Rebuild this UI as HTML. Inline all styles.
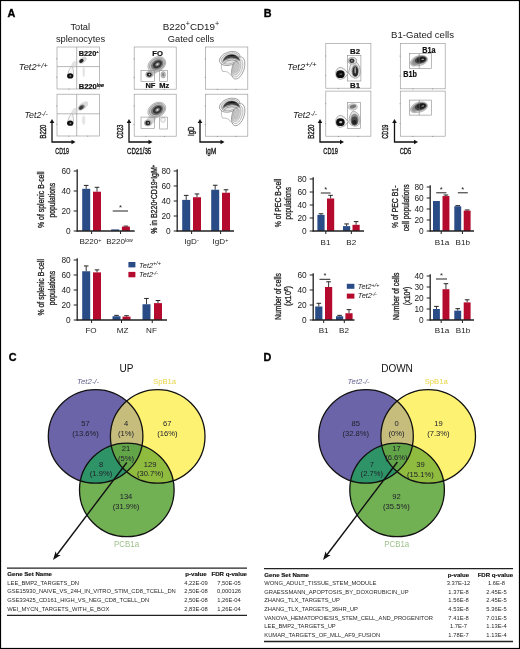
<!DOCTYPE html>
<html lang="en"><head><meta charset="utf-8"><title>Figure</title>
<style>html,body{margin:0;padding:0;background:#fff}svg{display:block}text{font-family:"Liberation Sans", sans-serif}</style></head><body>
<svg width="520" height="649" viewBox="0 0 520 649">
<defs><filter id="bl" x="-20%" y="-20%" width="140%" height="140%"><feGaussianBlur stdDeviation="0.5"/></filter><filter id="bl2" x="-20%" y="-20%" width="140%" height="140%"><feGaussianBlur stdDeviation="0.9"/></filter></defs>
<rect x="0" y="0" width="520" height="649" fill="#fff" />
<text x="7.4" y="17" font-size="10.8" font-weight="bold" fill="#000" stroke="#000" stroke-width="0.35">A</text>
<text x="80.3" y="29.5" font-size="9.3" text-anchor="middle" fill="#1a1a1a">Total</text>
<text x="80.5" y="41.5" font-size="9.3" text-anchor="middle" fill="#1a1a1a">splenocytes</text>
<text x="191" y="29.5" font-size="9.6" text-anchor="middle" fill="#1a1a1a" textLength="56.5" lengthAdjust="spacingAndGlyphs">B220<tspan font-size="7" dy="-3.2">+</tspan><tspan dy="3.2">CD19</tspan><tspan font-size="7" dy="-3.2">+</tspan></text>
<text x="191" y="41.5" font-size="9.3" text-anchor="middle" fill="#1a1a1a">Gated cells</text>
<text x="18.8" y="69.8" font-size="9.5" font-style="italic" fill="#1a1a1a" textLength="29.1" lengthAdjust="spacingAndGlyphs">Tet2<tspan font-size="8" dy="-2.2">+/+</tspan></text>
<text x="24.5" y="118" font-size="9" font-style="italic" fill="#1a1a1a" textLength="23.2" lengthAdjust="spacingAndGlyphs">Tet2<tspan font-size="6.8" dy="-2.4">-/-</tspan></text>
<rect x="57" y="47" width="42.599999999999994" height="42" fill="#fff" stroke="#999" stroke-width="0.65" />
<line x1="56.2" y1="58.760000000000005" x2="57.3" y2="58.760000000000005" stroke="#777" stroke-width="0.6" />
<line x1="68.928" y1="88.7" x2="68.928" y2="89.8" stroke="#777" stroke-width="0.6" />
<line x1="56.2" y1="77.24" x2="57.3" y2="77.24" stroke="#777" stroke-width="0.6" />
<line x1="87.672" y1="88.7" x2="87.672" y2="89.8" stroke="#777" stroke-width="0.6" />
<line x1="57" y1="66.6" x2="99.6" y2="66.6" stroke="#909090" stroke-width="0.65" />
<line x1="76.7" y1="47" x2="76.7" y2="89" stroke="#909090" stroke-width="0.65" />
<g filter="url(#bl)">
<path d="M67.2 75.95 Q68.5 68.95 72 65.75 Q74.3 70.95 73.4 75.95 Z" fill="#f6f6f6" stroke="#888" stroke-width="0.45"/>
<ellipse cx="70.2" cy="75.95" rx="3.1" ry="2.6" fill="#111" />
<ellipse cx="70.4" cy="75.95" rx="0.9" ry="0.6" fill="#aaa" />
<ellipse cx="74.6" cy="64.2" rx="2.6" ry="3.8" fill="#ccc" transform="rotate(38 74.6 64.2)" opacity="0.55" />
<ellipse cx="82.6" cy="60.2" rx="4.6" ry="2.8" fill="#bbb" transform="rotate(-38 82.6 60.2)" opacity="0.6" />
<ellipse cx="81.4" cy="60.9" rx="2.4" ry="1.8" fill="#222" transform="rotate(-35 81.4 60.9)" />
<ellipse cx="83.7" cy="72" rx="1.2" ry="5" fill="#ddd" opacity="0.8" />
</g>
<rect x="57" y="94.2" width="42.599999999999994" height="41.8" fill="#fff" stroke="#999" stroke-width="0.65" />
<line x1="56.2" y1="105.904" x2="57.3" y2="105.904" stroke="#777" stroke-width="0.6" />
<line x1="68.928" y1="135.7" x2="68.928" y2="136.8" stroke="#777" stroke-width="0.6" />
<line x1="56.2" y1="124.29599999999999" x2="57.3" y2="124.29599999999999" stroke="#777" stroke-width="0.6" />
<line x1="87.672" y1="135.7" x2="87.672" y2="136.8" stroke="#777" stroke-width="0.6" />
<line x1="57" y1="113.80000000000001" x2="99.6" y2="113.80000000000001" stroke="#909090" stroke-width="0.65" />
<line x1="76.7" y1="94.2" x2="76.7" y2="136" stroke="#909090" stroke-width="0.65" />
<g filter="url(#bl)">
<path d="M67.2 123.15 Q68.5 116.15 72 112.95 Q74.3 118.15 73.4 123.15 Z" fill="#f6f6f6" stroke="#888" stroke-width="0.45"/>
<ellipse cx="70.2" cy="123.15" rx="3.1" ry="2.6" fill="#111" />
<ellipse cx="70.4" cy="123.15" rx="0.9" ry="0.6" fill="#aaa" />
<ellipse cx="74.6" cy="111.4" rx="2.6" ry="3.8" fill="#ccc" transform="rotate(38 74.6 111.4)" opacity="0.55" />
<ellipse cx="83" cy="106.0" rx="6.2" ry="3.2" fill="#c4c4c4" transform="rotate(-40 83 106.0)" opacity="0.6" />
<ellipse cx="81.6" cy="107.3" rx="3.4" ry="2.2" fill="#777" transform="rotate(-38 81.6 107.3)" />
<ellipse cx="81.2" cy="107.60000000000001" rx="2.1" ry="1.4" fill="#3a3a3a" transform="rotate(-38 81.2 107.60000000000001)" />
<ellipse cx="83.7" cy="120.2" rx="1.6" ry="4.6" fill="#ddd" opacity="0.8" />
</g>
<text x="78.7" y="55.8" font-size="8.1" font-weight="bold" fill="#111" textLength="20" lengthAdjust="spacingAndGlyphs" stroke="#111" stroke-width="0.22">B220<tspan font-size="4.4" dy="-2.7">+</tspan></text>
<text x="78.7" y="88.8" font-size="8.1" font-weight="bold" fill="#111" textLength="25.2" lengthAdjust="spacingAndGlyphs" stroke="#111" stroke-width="0.22">B220<tspan font-size="4.6" dy="-1.6">low</tspan></text>
<path d="M52 122 V142 H72.5" fill="none" stroke="#111" stroke-width="1.3"/>
<path d="M49.7 123 L52 119 L54.3 123 Z" fill="#111"/>
<path d="M71.5 139.7 L75.5 142 L71.5 144.3 Z" fill="#111"/>
<text x="46.4" y="138.6" font-size="9.8" fill="#1a1a1a" textLength="14" lengthAdjust="spacingAndGlyphs" transform="rotate(-90 46.4 138.6)" stroke="#1a1a1a" stroke-width="0.4">B220</text>
<text x="55.3" y="154" font-size="9.8" fill="#1a1a1a" textLength="13.6" lengthAdjust="spacingAndGlyphs" stroke="#1a1a1a" stroke-width="0.4">CD19</text>
<rect x="134.2" y="47" width="42.0" height="42.2" fill="#fff" stroke="#999" stroke-width="0.65" />
<line x1="133.39999999999998" y1="58.816" x2="134.5" y2="58.816" stroke="#777" stroke-width="0.6" />
<line x1="145.95999999999998" y1="88.9" x2="145.95999999999998" y2="90.0" stroke="#777" stroke-width="0.6" />
<line x1="133.39999999999998" y1="77.384" x2="134.5" y2="77.384" stroke="#777" stroke-width="0.6" />
<line x1="164.44" y1="88.9" x2="164.44" y2="90.0" stroke="#777" stroke-width="0.6" />
<g filter="url(#bl)">
<path d="M147.2 72.6 Q150.2 67.6 152.2 67.5 L157.2 70.5 Q155.2 75.6 152.2 76.6 Z" fill="#c8c8c8" opacity="0.8"/>
<ellipse cx="156.79999999999998" cy="64.5" rx="9.6" ry="7.1" fill="#e6e6e6" stroke="#777" stroke-width="0.45" transform="rotate(-32 156.79999999999998 64.5)" />
<ellipse cx="157.0" cy="64.5" rx="8.2" ry="6" fill="#bdbdbd" stroke="#666" stroke-width="0.4" transform="rotate(-32 157.0 64.5)" />
<ellipse cx="157.2" cy="64.5" rx="6.6" ry="4.8" fill="#777" transform="rotate(-32 157.2 64.5)" />
<ellipse cx="157.39999999999998" cy="64.3" rx="4.8" ry="3.4" fill="#333" transform="rotate(-32 157.39999999999998 64.3)" />
<ellipse cx="157.5" cy="64.3" rx="2.6" ry="1.7" fill="#777" transform="rotate(-32 157.5 64.3)" />
<ellipse cx="157.5" cy="64.3" rx="1.1" ry="0.8" fill="#ddd" transform="rotate(-32 157.5 64.3)" />
<ellipse cx="149.2" cy="74.6" rx="3.5" ry="3" fill="#c4c4c4" stroke="#666" stroke-width="0.4" />
<ellipse cx="149.2" cy="74.6" rx="2.5" ry="2.2" fill="#1e1e1e" />
<ellipse cx="149.5" cy="74.6" rx="0.9" ry="0.8" fill="#ccc" />
<ellipse cx="163.2" cy="74.8" rx="2.3" ry="3.2" fill="#bbb" stroke="#888" stroke-width="0.4" />
<ellipse cx="163.2" cy="74.8" rx="1.1" ry="1.8" fill="#888" />
</g>
<rect x="141" y="70.6" width="13.6" height="10.9" fill="none" stroke="#8c8c8c" stroke-width="0.6" />
<rect x="159.7" y="70.6" width="7.8" height="10.9" fill="none" stroke="#8c8c8c" stroke-width="0.6" />
<rect x="134.2" y="94.2" width="42.0" height="41.999999999999986" fill="#fff" stroke="#999" stroke-width="0.65" />
<line x1="133.39999999999998" y1="105.96000000000001" x2="134.5" y2="105.96000000000001" stroke="#777" stroke-width="0.6" />
<line x1="145.95999999999998" y1="135.89999999999998" x2="145.95999999999998" y2="137.0" stroke="#777" stroke-width="0.6" />
<line x1="133.39999999999998" y1="124.44" x2="134.5" y2="124.44" stroke="#777" stroke-width="0.6" />
<line x1="164.44" y1="135.89999999999998" x2="164.44" y2="137.0" stroke="#777" stroke-width="0.6" />
<g filter="url(#bl)">
<path d="M145.8 121.0 Q148.8 116.0 152.2 113.0 L157.2 116.0 Q153.8 124.0 150.8 125.0 Z" fill="#c8c8c8" opacity="0.8"/>
<ellipse cx="156.79999999999998" cy="110.0" rx="9.6" ry="7.1" fill="#e6e6e6" stroke="#777" stroke-width="0.45" transform="rotate(-32 156.79999999999998 110.0)" />
<ellipse cx="157.0" cy="110.0" rx="8.2" ry="6" fill="#bdbdbd" stroke="#666" stroke-width="0.4" transform="rotate(-32 157.0 110.0)" />
<ellipse cx="157.2" cy="110.0" rx="6.6" ry="4.8" fill="#777" transform="rotate(-32 157.2 110.0)" />
<ellipse cx="157.39999999999998" cy="109.8" rx="4.8" ry="3.4" fill="#333" transform="rotate(-32 157.39999999999998 109.8)" />
<ellipse cx="157.5" cy="109.8" rx="2.6" ry="1.7" fill="#777" transform="rotate(-32 157.5 109.8)" />
<ellipse cx="157.5" cy="109.8" rx="1.1" ry="0.8" fill="#ddd" transform="rotate(-32 157.5 109.8)" />
<ellipse cx="147.8" cy="123.0" rx="3.5" ry="3" fill="#c4c4c4" stroke="#666" stroke-width="0.4" />
<ellipse cx="147.8" cy="123.0" rx="2.5" ry="2.2" fill="#1e1e1e" />
<ellipse cx="148.10000000000002" cy="123.0" rx="0.9" ry="0.8" fill="#ccc" />
<ellipse cx="163" cy="119.80000000000001" rx="2.3" ry="2.6" fill="#f4f4f4" stroke="#999" stroke-width="0.45" />
</g>
<rect x="141" y="117.1" width="13.6" height="11.4" fill="none" stroke="#8c8c8c" stroke-width="0.6" />
<rect x="159.7" y="117.1" width="7.8" height="11.9" fill="none" stroke="#8c8c8c" stroke-width="0.6" />
<text x="152.3" y="56.3" font-size="7.6" font-weight="bold" fill="#111" stroke="#111" stroke-width="0.22">FO</text>
<text x="145.4" y="88.1" font-size="7.5" font-weight="bold" fill="#111" stroke="#111" stroke-width="0.22">NF</text>
<text x="159.3" y="88.1" font-size="7.5" font-weight="bold" fill="#111" stroke="#111" stroke-width="0.22">Mz</text>
<path d="M129 122 V142 H149.5" fill="none" stroke="#111" stroke-width="1.3"/>
<path d="M126.7 123 L129 119 L131.3 123 Z" fill="#111"/>
<path d="M148.5 139.7 L152.5 142 L148.5 144.3 Z" fill="#111"/>
<text x="123.2" y="138.6" font-size="9.8" fill="#1a1a1a" textLength="14" lengthAdjust="spacingAndGlyphs" transform="rotate(-90 123.2 138.6)" stroke="#1a1a1a" stroke-width="0.4">CD23</text>
<text x="127" y="154" font-size="9.8" fill="#1a1a1a" textLength="24.2" lengthAdjust="spacingAndGlyphs" stroke="#1a1a1a" stroke-width="0.4">CD21/35</text>
<rect x="205.5" y="47" width="42.30000000000001" height="42.2" fill="#fff" stroke="#999" stroke-width="0.65" />
<line x1="204.7" y1="58.816" x2="205.8" y2="58.816" stroke="#777" stroke-width="0.6" />
<line x1="217.344" y1="88.9" x2="217.344" y2="90.0" stroke="#777" stroke-width="0.6" />
<line x1="204.7" y1="77.384" x2="205.8" y2="77.384" stroke="#777" stroke-width="0.6" />
<line x1="235.95600000000002" y1="88.9" x2="235.95600000000002" y2="90.0" stroke="#777" stroke-width="0.6" />
<g filter="url(#bl)">
<ellipse cx="229.7" cy="58.5" rx="10.6" ry="6.6" fill="#fff" stroke="#555" stroke-width="0.5" transform="rotate(-18 229.7 58.5)" />
<ellipse cx="238.2" cy="68" rx="6" ry="11.5" fill="#fff" stroke="#555" stroke-width="0.5" transform="rotate(18 238.2 68)" />
<ellipse cx="237.6" cy="68" rx="4.7" ry="9.4" fill="#f1f1f1" stroke="#777" stroke-width="0.4" transform="rotate(18 237.6 68)" />
<ellipse cx="237" cy="67.7" rx="3.4" ry="7.4" fill="#dcdcdc" stroke="#888" stroke-width="0.4" transform="rotate(18 237 67.7)" />
<ellipse cx="236.7" cy="67.7" rx="2" ry="5.2" fill="#c6c6c6" stroke="#999" stroke-width="0.3" transform="rotate(18 236.7 67.7)" />
<ellipse cx="229.9" cy="58.5" rx="9" ry="5.3" fill="#e2e2e2" stroke="#666" stroke-width="0.4" transform="rotate(-18 229.9 58.5)" />
<path d="M222 62.8 Q223.5 54.1 232 53.9 Q239 54.5 240.6 61.5 Q236 58.3 231 58.7 Q225.5 59.5 222 62.8 Z" fill="#8a8a8a"/>
<path d="M223.2 60.8 Q225 54.6 232 54.4 Q238 54.9 239.6 60.1 Q235.5 57.1 231 57.5 Q226 58.1 223.2 60.8 Z" fill="#3a3a3a"/>
<path d="M227 55.9 Q231 54.5 236.5 55.7 Q232 56.1 227 55.9 Z" fill="#0a0a0a"/>
<path d="M223.5 63.9 Q226 60.1 232 59.9 Q236.5 60.1 238.5 62.9" fill="none" stroke="#777" stroke-width="0.7"/>
<path d="M221.5 63.5 Q220.6 68.5 222.6 71.5 Q228 70.5 231.5 76.0" fill="none" stroke="#777" stroke-width="0.45"/>
</g>
<rect x="205.5" y="94.2" width="42.30000000000001" height="41.999999999999986" fill="#fff" stroke="#999" stroke-width="0.65" />
<line x1="204.7" y1="105.96000000000001" x2="205.8" y2="105.96000000000001" stroke="#777" stroke-width="0.6" />
<line x1="217.344" y1="135.89999999999998" x2="217.344" y2="137.0" stroke="#777" stroke-width="0.6" />
<line x1="204.7" y1="124.44" x2="205.8" y2="124.44" stroke="#777" stroke-width="0.6" />
<line x1="235.95600000000002" y1="135.89999999999998" x2="235.95600000000002" y2="137.0" stroke="#777" stroke-width="0.6" />
<g filter="url(#bl)">
<ellipse cx="229.7" cy="105.2" rx="10.6" ry="6.6" fill="#fff" stroke="#555" stroke-width="0.5" transform="rotate(-18 229.7 105.2)" />
<ellipse cx="238.2" cy="114.7" rx="6" ry="11.5" fill="#fff" stroke="#555" stroke-width="0.5" transform="rotate(18 238.2 114.7)" />
<ellipse cx="237.6" cy="114.7" rx="4.7" ry="9.4" fill="#f1f1f1" stroke="#777" stroke-width="0.4" transform="rotate(18 237.6 114.7)" />
<ellipse cx="237" cy="114.4" rx="3.4" ry="7.4" fill="#dcdcdc" stroke="#888" stroke-width="0.4" transform="rotate(18 237 114.4)" />
<ellipse cx="236.7" cy="114.4" rx="2" ry="5.2" fill="#c6c6c6" stroke="#999" stroke-width="0.3" transform="rotate(18 236.7 114.4)" />
<ellipse cx="229.9" cy="105.2" rx="9" ry="5.3" fill="#e2e2e2" stroke="#666" stroke-width="0.4" transform="rotate(-18 229.9 105.2)" />
<path d="M222 109.5 Q223.5 100.8 232 100.60000000000001 Q239 101.2 240.6 108.2 Q236 105.0 231 105.4 Q225.5 106.2 222 109.5 Z" fill="#8a8a8a"/>
<path d="M223.2 107.5 Q225 101.3 232 101.10000000000001 Q238 101.60000000000001 239.6 106.8 Q235.5 103.8 231 104.2 Q226 104.8 223.2 107.5 Z" fill="#3a3a3a"/>
<path d="M227 102.60000000000001 Q231 101.2 236.5 102.4 Q232 102.8 227 102.60000000000001 Z" fill="#0a0a0a"/>
<path d="M223.5 110.60000000000001 Q226 106.8 232 106.60000000000001 Q236.5 106.8 238.5 109.60000000000001" fill="none" stroke="#777" stroke-width="0.7"/>
<path d="M221.5 110.2 Q220.6 115.2 222.6 118.2 Q228 117.2 231.5 122.7" fill="none" stroke="#777" stroke-width="0.45"/>
</g>
<path d="M200 122 V142 H221.5" fill="none" stroke="#111" stroke-width="1.3"/>
<path d="M197.7 123 L200 119 L202.3 123 Z" fill="#111"/>
<path d="M220.5 139.7 L224.5 142 L220.5 144.3 Z" fill="#111"/>
<text x="194" y="136" font-size="9.8" fill="#1a1a1a" textLength="9.5" lengthAdjust="spacingAndGlyphs" transform="rotate(-90 194 136)" stroke="#1a1a1a" stroke-width="0.4">IgD</text>
<text x="205.6" y="154" font-size="9.8" fill="#1a1a1a" textLength="10.6" lengthAdjust="spacingAndGlyphs" stroke="#1a1a1a" stroke-width="0.4">IgM</text>
<text x="263.8" y="17" font-size="10.8" font-weight="bold" fill="#000" stroke="#000" stroke-width="0.35">B</text>
<text x="287.3" y="69.5" font-size="9.5" font-style="italic" fill="#1a1a1a" textLength="29.3" lengthAdjust="spacingAndGlyphs">Tet2<tspan font-size="8" dy="-2.2">+/+</tspan></text>
<text x="293.1" y="118" font-size="9" font-style="italic" fill="#1a1a1a" textLength="23.8" lengthAdjust="spacingAndGlyphs">Tet2<tspan font-size="6.8" dy="-2.4">-/-</tspan></text>
<text x="391" y="38.2" font-size="9.3" fill="#1a1a1a" textLength="63" lengthAdjust="spacingAndGlyphs">B1-Gated cells</text>
<rect x="325.8" y="43.4" width="45.099999999999966" height="44.800000000000004" fill="#fff" stroke="#999" stroke-width="0.65" />
<line x1="325.0" y1="55.944" x2="326.1" y2="55.944" stroke="#777" stroke-width="0.6" />
<line x1="338.428" y1="87.9" x2="338.428" y2="89.0" stroke="#777" stroke-width="0.6" />
<line x1="325.0" y1="75.656" x2="326.1" y2="75.656" stroke="#777" stroke-width="0.6" />
<line x1="358.272" y1="87.9" x2="358.272" y2="89.0" stroke="#777" stroke-width="0.6" />
<rect x="347.5" y="55.4" width="13.4" height="25.6" fill="none" stroke="#888" stroke-width="0.6" />
<g filter="url(#bl)">
<path d="M335.7 73.2 Q336.2 67.4 341.0 67.4 Q345.0 68.4 348.2 73.7 Q345.0 79.2 340.5 79.4 Q335.7 78.9 335.7 73.2 Z" fill="#f2f2f2" stroke="#666" stroke-width="0.5"/>
<ellipse cx="340.4" cy="74.2" rx="4.3" ry="3.9" fill="#111" />
<ellipse cx="340.9" cy="74.2" rx="1.5" ry="0.8" fill="#666" />
<path d="M348.5 72.8 Q350 63.8 353 60.3 Q360.3 62.8 360.3 71.8 Q360 78.3 355 78.3 Q351 77.8 348.5 72.8 Z" fill="#e8e8e8" stroke="#666" stroke-width="0.5"/>
<ellipse cx="355.2" cy="70.8" rx="3.7" ry="6.2" fill="#9a9a9a" />
<ellipse cx="355.3" cy="71.39999999999999" rx="2.8" ry="5" fill="#2c2c2c" />
<ellipse cx="355.2" cy="70.2" rx="0.8" ry="3.2" fill="#aaa" />
<ellipse cx="352.4" cy="60.7" rx="4.3" ry="3.3" fill="#ddd" stroke="#666" stroke-width="0.5" />
<ellipse cx="351.9" cy="60.7" rx="2.6" ry="2.2" fill="#333" />
<ellipse cx="351.9" cy="60.7" rx="0.8" ry="0.8" fill="#bbb" />
</g>
<rect x="325.8" y="91.1" width="45.099999999999966" height="45.099999999999994" fill="#fff" stroke="#999" stroke-width="0.65" />
<line x1="325.0" y1="103.728" x2="326.1" y2="103.728" stroke="#777" stroke-width="0.6" />
<line x1="338.428" y1="135.89999999999998" x2="338.428" y2="137.0" stroke="#777" stroke-width="0.6" />
<line x1="325.0" y1="123.57199999999999" x2="326.1" y2="123.57199999999999" stroke="#777" stroke-width="0.6" />
<line x1="358.272" y1="135.89999999999998" x2="358.272" y2="137.0" stroke="#777" stroke-width="0.6" />
<rect x="347.5" y="102.3" width="13" height="26.1" fill="none" stroke="#888" stroke-width="0.6" />
<g filter="url(#bl)">
<path d="M335.7 121.19999999999999 Q336.2 115.39999999999999 341.0 115.39999999999999 Q345.0 116.39999999999999 348.2 121.69999999999999 Q345.0 127.19999999999999 340.5 127.39999999999999 Q335.7 126.89999999999999 335.7 121.19999999999999 Z" fill="#f2f2f2" stroke="#666" stroke-width="0.5"/>
<ellipse cx="340.4" cy="122.19999999999999" rx="4.3" ry="3.9" fill="#111" />
<ellipse cx="340.7" cy="122.19999999999999" rx="1.6" ry="1.1" fill="#bbb" />
<path d="M348.8 122.3 Q349.5 113.3 353 110.8 Q360 112.3 360 121.3 Q359.6 126.3 354.6 126.3 Q350.6 125.89999999999999 348.8 122.3 Z" fill="#dedede" stroke="#777" stroke-width="0.5"/>
<ellipse cx="354.6" cy="119.7" rx="4.1" ry="6" fill="#8c8c8c" />
<ellipse cx="354.5" cy="120.89999999999999" rx="3.2" ry="4.4" fill="#474747" />
<ellipse cx="354.4" cy="122.1" rx="2.2" ry="2.2" fill="#222" />
<ellipse cx="352.8" cy="106.8" rx="4.6" ry="3.1" fill="#d4d4d4" stroke="#888" stroke-width="0.4" />
<ellipse cx="353" cy="106.6" rx="3.2" ry="1.8" fill="#777" transform="rotate(-15 353 106.6)" />
</g>
<text x="350" y="54" font-size="7.8" font-weight="bold" fill="#111" stroke="#111" stroke-width="0.22">B2</text>
<text x="350" y="88.2" font-size="7.8" font-weight="bold" fill="#111" stroke="#111" stroke-width="0.22">B1</text>
<path d="M320 122 V142 H341" fill="none" stroke="#111" stroke-width="1.3"/>
<path d="M317.7 123 L320 119 L322.3 123 Z" fill="#111"/>
<path d="M340 139.7 L344 142 L340 144.3 Z" fill="#111"/>
<text x="314.3" y="138.8" font-size="9.8" fill="#1a1a1a" textLength="14.2" lengthAdjust="spacingAndGlyphs" transform="rotate(-90 314.3 138.8)" stroke="#1a1a1a" stroke-width="0.4">B220</text>
<text x="323.3" y="154" font-size="9.8" fill="#1a1a1a" textLength="14.5" lengthAdjust="spacingAndGlyphs" stroke="#1a1a1a" stroke-width="0.4">CD19</text>
<rect x="400.3" y="43.4" width="44.89999999999998" height="45.4" fill="#fff" stroke="#999" stroke-width="0.65" />
<line x1="399.5" y1="56.112" x2="400.6" y2="56.112" stroke="#777" stroke-width="0.6" />
<line x1="412.872" y1="88.5" x2="412.872" y2="89.6" stroke="#777" stroke-width="0.6" />
<line x1="399.5" y1="76.088" x2="400.6" y2="76.088" stroke="#777" stroke-width="0.6" />
<line x1="432.628" y1="88.5" x2="432.628" y2="89.6" stroke="#777" stroke-width="0.6" />
<g filter="url(#bl)">
<ellipse cx="415.2" cy="62.300000000000004" rx="5.2" ry="3.6" fill="#c9c9c9" stroke="#999" stroke-width="0.3" transform="rotate(-25 415.2 62.300000000000004)" />
<ellipse cx="419.3" cy="60.6" rx="8.6" ry="5" fill="#cfcfcf" stroke="#888" stroke-width="0.4" transform="rotate(-14 419.3 60.6)" />
<ellipse cx="416" cy="61.7" rx="4.6" ry="3" fill="#9a9a9a" transform="rotate(-25 416 61.7)" />
<ellipse cx="420" cy="60.1" rx="7.3" ry="4.1" fill="#8a8a8a" transform="rotate(-14 420 60.1)" />
<ellipse cx="420.6" cy="59.9" rx="6" ry="3.3" fill="#444" transform="rotate(-14 420.6 59.9)" />
<ellipse cx="421.3" cy="59.6" rx="4.4" ry="2.4" fill="#1c1c1c" transform="rotate(-14 421.3 59.6)" />
<ellipse cx="422.8" cy="59.4" rx="1.4" ry="0.6" fill="#aaa" transform="rotate(-14 422.8 59.4)" />
</g>
<rect x="409.3" y="53.5" width="22.3" height="15" fill="none" stroke="#8a8a8a" stroke-width="0.6" />
<line x1="419.2" y1="53.5" x2="419.2" y2="68.5" stroke="#777" stroke-width="0.6" />
<rect x="400.3" y="91.1" width="44.89999999999998" height="45.099999999999994" fill="#fff" stroke="#999" stroke-width="0.65" />
<line x1="399.5" y1="103.728" x2="400.6" y2="103.728" stroke="#777" stroke-width="0.6" />
<line x1="412.872" y1="135.89999999999998" x2="412.872" y2="137.0" stroke="#777" stroke-width="0.6" />
<line x1="399.5" y1="123.57199999999999" x2="400.6" y2="123.57199999999999" stroke="#777" stroke-width="0.6" />
<line x1="432.628" y1="135.89999999999998" x2="432.628" y2="137.0" stroke="#777" stroke-width="0.6" />
<g filter="url(#bl)">
<ellipse cx="415.2" cy="108.89999999999999" rx="5.2" ry="3.6" fill="#c9c9c9" stroke="#999" stroke-width="0.3" transform="rotate(-25 415.2 108.89999999999999)" />
<ellipse cx="419.3" cy="107.19999999999999" rx="8.6" ry="5" fill="#cfcfcf" stroke="#888" stroke-width="0.4" transform="rotate(-14 419.3 107.19999999999999)" />
<ellipse cx="416" cy="108.29999999999998" rx="4.6" ry="3" fill="#9a9a9a" transform="rotate(-25 416 108.29999999999998)" />
<ellipse cx="420" cy="106.69999999999999" rx="7.3" ry="4.1" fill="#8a8a8a" transform="rotate(-14 420 106.69999999999999)" />
<ellipse cx="420.6" cy="106.49999999999999" rx="6" ry="3.3" fill="#444" transform="rotate(-14 420.6 106.49999999999999)" />
<ellipse cx="421.3" cy="106.19999999999999" rx="4.4" ry="2.4" fill="#1c1c1c" transform="rotate(-14 421.3 106.19999999999999)" />
<ellipse cx="422.8" cy="105.99999999999999" rx="1.4" ry="0.6" fill="#aaa" transform="rotate(-14 422.8 105.99999999999999)" />
</g>
<rect x="409.3" y="100.1" width="22.3" height="15" fill="none" stroke="#8a8a8a" stroke-width="0.6" />
<line x1="419.2" y1="100.1" x2="419.2" y2="115.1" stroke="#777" stroke-width="0.6" />
<text x="422.3" y="52.5" font-size="8.2" font-weight="bold" fill="#111" textLength="13.3" lengthAdjust="spacingAndGlyphs" stroke="#111" stroke-width="0.22">B1a</text>
<text x="403.2" y="76.8" font-size="8.2" font-weight="bold" fill="#111" textLength="13.6" lengthAdjust="spacingAndGlyphs" stroke="#111" stroke-width="0.22">B1b</text>
<path d="M394.5 122 V142 H415" fill="none" stroke="#111" stroke-width="1.3"/>
<path d="M392.2 123 L394.5 119 L396.8 123 Z" fill="#111"/>
<path d="M414 139.7 L418 142 L414 144.3 Z" fill="#111"/>
<text x="387.6" y="138.8" font-size="9.8" fill="#1a1a1a" textLength="14.2" lengthAdjust="spacingAndGlyphs" transform="rotate(-90 387.6 138.8)" stroke="#1a1a1a" stroke-width="0.4">CD19</text>
<text x="399.7" y="154" font-size="9.8" fill="#1a1a1a" textLength="11.5" lengthAdjust="spacingAndGlyphs" stroke="#1a1a1a" stroke-width="0.4">CD5</text>
<line x1="73.7" y1="231.0" x2="77.2" y2="231.0" stroke="#222" stroke-width="1" />
<text x="70.7" y="233.9" font-size="8.3" text-anchor="end" fill="#222">0</text>
<line x1="73.7" y1="211.0" x2="77.2" y2="211.0" stroke="#222" stroke-width="1" />
<text x="70.7" y="213.9" font-size="8.3" text-anchor="end" fill="#222">20</text>
<line x1="73.7" y1="191.0" x2="77.2" y2="191.0" stroke="#222" stroke-width="1" />
<text x="70.7" y="193.9" font-size="8.3" text-anchor="end" fill="#222">40</text>
<line x1="73.7" y1="171.0" x2="77.2" y2="171.0" stroke="#222" stroke-width="1" />
<text x="70.7" y="173.9" font-size="8.3" text-anchor="end" fill="#222">60</text>
<line x1="86.2" y1="188.8" x2="86.2" y2="185.4" stroke="#222" stroke-width="0.9" />
<line x1="83.9" y1="185.4" x2="88.5" y2="185.4" stroke="#222" stroke-width="1" />
<rect x="82.2" y="188.8" width="8" height="42.2" fill="#2a4c86" />
<line x1="97.0" y1="191.7" x2="97.0" y2="187.29999999999998" stroke="#222" stroke-width="0.9" />
<line x1="94.7" y1="187.29999999999998" x2="99.3" y2="187.29999999999998" stroke="#222" stroke-width="1" />
<rect x="93" y="191.7" width="8" height="39.3" fill="#b30a2e" />
<rect x="111.2" y="229.4" width="8" height="1.6" fill="#2a4c86" />
<line x1="125.9" y1="226.6" x2="125.9" y2="226.1" stroke="#222" stroke-width="0.9" />
<line x1="123.60000000000001" y1="226.1" x2="128.20000000000002" y2="226.1" stroke="#222" stroke-width="1" />
<rect x="121.9" y="226.6" width="8" height="4.4" fill="#b30a2e" />
<line x1="77.2" y1="169.2" x2="77.2" y2="231.6" stroke="#222" stroke-width="1.3" />
<line x1="76.60000000000001" y1="231" x2="134.7" y2="231" stroke="#222" stroke-width="1.3" />
<line x1="91.6" y1="231" x2="91.6" y2="234" stroke="#222" stroke-width="1" />
<line x1="120.55000000000001" y1="231" x2="120.55000000000001" y2="234" stroke="#222" stroke-width="1" />
<text x="90.5" y="244.3" font-size="8.1" text-anchor="middle" fill="#222">B220<tspan font-size="5.5" dy="-2.8">+</tspan></text>
<text x="119.5" y="244.3" font-size="8.1" text-anchor="middle" fill="#222">B220<tspan font-size="5.2" dy="-2.8">low</tspan></text>
<line x1="112.7" y1="211" x2="128" y2="211" stroke="#222" stroke-width="1" />
<text x="120.35" y="210.1" font-size="7.5" text-anchor="middle" fill="#222">*</text>
<text x="44" y="199.7" font-size="8.4" text-anchor="middle" fill="#222" textLength="56.5" lengthAdjust="spacingAndGlyphs" transform="rotate(-90 44 199.7)" stroke="#222" stroke-width="0.3">% of splenic B-cell</text>
<text x="55.3" y="200.2" font-size="8.4" text-anchor="middle" fill="#222" textLength="34.5" lengthAdjust="spacingAndGlyphs" transform="rotate(-90 55.3 200.2)" stroke="#222" stroke-width="0.3">populations</text>
<line x1="173.7" y1="231.0" x2="177.2" y2="231.0" stroke="#222" stroke-width="1" />
<text x="170.7" y="233.9" font-size="8.3" text-anchor="end" fill="#222">0</text>
<line x1="173.7" y1="216.0" x2="177.2" y2="216.0" stroke="#222" stroke-width="1" />
<text x="170.7" y="218.9" font-size="8.3" text-anchor="end" fill="#222">20</text>
<line x1="173.7" y1="201.0" x2="177.2" y2="201.0" stroke="#222" stroke-width="1" />
<text x="170.7" y="203.9" font-size="8.3" text-anchor="end" fill="#222">40</text>
<line x1="173.7" y1="186.0" x2="177.2" y2="186.0" stroke="#222" stroke-width="1" />
<text x="170.7" y="188.9" font-size="8.3" text-anchor="end" fill="#222">60</text>
<line x1="173.7" y1="171.0" x2="177.2" y2="171.0" stroke="#222" stroke-width="1" />
<text x="170.7" y="173.9" font-size="8.3" text-anchor="end" fill="#222">80</text>
<line x1="186.2" y1="199.875" x2="186.2" y2="195.375" stroke="#222" stroke-width="0.9" />
<line x1="183.89999999999998" y1="195.375" x2="188.5" y2="195.375" stroke="#222" stroke-width="1" />
<rect x="182.2" y="199.88" width="8" height="31.12" fill="#2a4c86" />
<line x1="197.0" y1="197.25" x2="197.0" y2="193.95" stroke="#222" stroke-width="0.9" />
<line x1="194.7" y1="193.95" x2="199.3" y2="193.95" stroke="#222" stroke-width="1" />
<rect x="193" y="197.25" width="8" height="33.75" fill="#b30a2e" />
<line x1="215.2" y1="189.75" x2="215.2" y2="185.25" stroke="#222" stroke-width="0.9" />
<line x1="212.89999999999998" y1="185.25" x2="217.5" y2="185.25" stroke="#222" stroke-width="1" />
<rect x="211.2" y="189.75" width="8" height="41.25" fill="#2a4c86" />
<line x1="226.0" y1="192.75" x2="226.0" y2="189.75" stroke="#222" stroke-width="0.9" />
<line x1="223.7" y1="189.75" x2="228.3" y2="189.75" stroke="#222" stroke-width="1" />
<rect x="222" y="192.75" width="8" height="38.25" fill="#b30a2e" />
<line x1="177.2" y1="169.2" x2="177.2" y2="231.6" stroke="#222" stroke-width="1.3" />
<line x1="176.6" y1="231" x2="234" y2="231" stroke="#222" stroke-width="1.3" />
<line x1="191.6" y1="231" x2="191.6" y2="234" stroke="#222" stroke-width="1" />
<line x1="220.6" y1="231" x2="220.6" y2="234" stroke="#222" stroke-width="1" />
<text x="191.5" y="244.3" font-size="8.1" text-anchor="middle" fill="#222">IgD<tspan font-size="5.5" dy="-2.8">-</tspan></text>
<text x="220.5" y="244.3" font-size="8.1" text-anchor="middle" fill="#222">IgD<tspan font-size="5.5" dy="-2.8">+</tspan></text>
<text x="157.2" y="199.2" font-size="8.4" text-anchor="middle" fill="#222" textLength="69" lengthAdjust="spacingAndGlyphs" transform="rotate(-90 157.2 199.2)" stroke="#222" stroke-width="0.3">% in B220<tspan font-size="5" dy="-2.5">+</tspan><tspan dy="2.5">CD19</tspan><tspan font-size="5" dy="-2.5">+</tspan><tspan dy="2.5">IgM</tspan><tspan font-size="5" dy="-2.5">+</tspan></text>
<line x1="73.7" y1="320.0" x2="77.2" y2="320.0" stroke="#222" stroke-width="1" />
<text x="70.7" y="322.9" font-size="8.3" text-anchor="end" fill="#222">0</text>
<line x1="73.7" y1="305.0" x2="77.2" y2="305.0" stroke="#222" stroke-width="1" />
<text x="70.7" y="307.9" font-size="8.3" text-anchor="end" fill="#222">20</text>
<line x1="73.7" y1="290.0" x2="77.2" y2="290.0" stroke="#222" stroke-width="1" />
<text x="70.7" y="292.9" font-size="8.3" text-anchor="end" fill="#222">40</text>
<line x1="73.7" y1="275.0" x2="77.2" y2="275.0" stroke="#222" stroke-width="1" />
<text x="70.7" y="277.9" font-size="8.3" text-anchor="end" fill="#222">60</text>
<line x1="73.7" y1="260.0" x2="77.2" y2="260.0" stroke="#222" stroke-width="1" />
<text x="70.7" y="262.9" font-size="8.3" text-anchor="end" fill="#222">80</text>
<line x1="86.2" y1="271.25" x2="86.2" y2="265.95" stroke="#222" stroke-width="0.9" />
<line x1="83.9" y1="265.95" x2="88.5" y2="265.95" stroke="#222" stroke-width="1" />
<rect x="82.2" y="271.25" width="8" height="48.75" fill="#2a4c86" />
<line x1="97.0" y1="272.375" x2="97.0" y2="269.875" stroke="#222" stroke-width="0.9" />
<line x1="94.7" y1="269.875" x2="99.3" y2="269.875" stroke="#222" stroke-width="1" />
<rect x="93" y="272.38" width="8" height="47.62" fill="#b30a2e" />
<line x1="116.5" y1="316.25" x2="116.5" y2="315.35" stroke="#222" stroke-width="0.9" />
<line x1="114.2" y1="315.35" x2="118.8" y2="315.35" stroke="#222" stroke-width="1" />
<rect x="112.5" y="316.25" width="8" height="3.75" fill="#2a4c86" />
<line x1="126.5" y1="316.625" x2="126.5" y2="315.725" stroke="#222" stroke-width="0.9" />
<line x1="124.2" y1="315.725" x2="128.8" y2="315.725" stroke="#222" stroke-width="1" />
<rect x="122.5" y="316.62" width="8" height="3.38" fill="#b30a2e" />
<line x1="146.5" y1="304.25" x2="146.5" y2="298.45" stroke="#222" stroke-width="0.9" />
<line x1="144.2" y1="298.45" x2="148.8" y2="298.45" stroke="#222" stroke-width="1" />
<rect x="142.5" y="304.25" width="8" height="15.75" fill="#2a4c86" />
<line x1="158.0" y1="303.125" x2="158.0" y2="300.525" stroke="#222" stroke-width="0.9" />
<line x1="155.7" y1="300.525" x2="160.3" y2="300.525" stroke="#222" stroke-width="1" />
<rect x="154" y="303.12" width="8" height="16.88" fill="#b30a2e" />
<line x1="77.2" y1="258.2" x2="77.2" y2="320.6" stroke="#222" stroke-width="1.3" />
<line x1="76.60000000000001" y1="320" x2="167" y2="320" stroke="#222" stroke-width="1.3" />
<line x1="91.6" y1="320" x2="91.6" y2="323" stroke="#222" stroke-width="1" />
<line x1="121.5" y1="320" x2="121.5" y2="323" stroke="#222" stroke-width="1" />
<line x1="152.25" y1="320" x2="152.25" y2="323" stroke="#222" stroke-width="1" />
<text x="91" y="332.6" font-size="8.1" text-anchor="middle" fill="#222">FO</text>
<text x="122.5" y="332.6" font-size="8.1" text-anchor="middle" fill="#222">MZ</text>
<text x="151.5" y="332.6" font-size="8.1" text-anchor="middle" fill="#222">NF</text>
<text x="44" y="287.3" font-size="8.4" text-anchor="middle" fill="#222" textLength="56.5" lengthAdjust="spacingAndGlyphs" transform="rotate(-90 44 287.3)" stroke="#222" stroke-width="0.3">% of splenic B-cell</text>
<text x="55.3" y="288" font-size="8.4" text-anchor="middle" fill="#222" textLength="34.5" lengthAdjust="spacingAndGlyphs" transform="rotate(-90 55.3 288)" stroke="#222" stroke-width="0.3">populations</text>
<rect x="128.4" y="262" width="7" height="5.4" fill="#2a4c86" />
<rect x="128.4" y="271.9" width="7" height="5.4" fill="#b30a2e" />
<text x="139" y="267.5" font-size="7.2" font-style="italic" fill="#1a1a1a" textLength="22" lengthAdjust="spacingAndGlyphs">Tet2<tspan font-size="5.4" dy="-2.2">+/+</tspan></text>
<text x="139" y="277.3" font-size="7.2" font-style="italic" fill="#1a1a1a" textLength="19" lengthAdjust="spacingAndGlyphs">Tet2<tspan font-size="5" dy="-2.2">-/-</tspan></text>
<line x1="309.7" y1="231.0" x2="313.2" y2="231.0" stroke="#222" stroke-width="1" />
<text x="306.7" y="233.9" font-size="8.3" text-anchor="end" fill="#222">0</text>
<line x1="309.7" y1="218.0" x2="313.2" y2="218.0" stroke="#222" stroke-width="1" />
<text x="306.7" y="220.9" font-size="8.3" text-anchor="end" fill="#222">20</text>
<line x1="309.7" y1="205.0" x2="313.2" y2="205.0" stroke="#222" stroke-width="1" />
<text x="306.7" y="207.9" font-size="8.3" text-anchor="end" fill="#222">40</text>
<line x1="309.7" y1="192.0" x2="313.2" y2="192.0" stroke="#222" stroke-width="1" />
<text x="306.7" y="194.9" font-size="8.3" text-anchor="end" fill="#222">60</text>
<line x1="309.7" y1="179.0" x2="313.2" y2="179.0" stroke="#222" stroke-width="1" />
<text x="306.7" y="181.9" font-size="8.3" text-anchor="end" fill="#222">80</text>
<line x1="321.0" y1="214.88" x2="321.0" y2="213.78" stroke="#222" stroke-width="0.9" />
<line x1="318.7" y1="213.78" x2="323.3" y2="213.78" stroke="#222" stroke-width="1" />
<rect x="317.4" y="214.88" width="7.2" height="16.12" fill="#2a4c86" />
<line x1="330.6" y1="198.5" x2="330.6" y2="195.3" stroke="#222" stroke-width="0.9" />
<line x1="328.3" y1="195.3" x2="332.90000000000003" y2="195.3" stroke="#222" stroke-width="1" />
<rect x="327" y="198.5" width="7.2" height="32.5" fill="#b30a2e" />
<line x1="346.6" y1="226.125" x2="346.6" y2="223.925" stroke="#222" stroke-width="0.9" />
<line x1="344.3" y1="223.925" x2="348.90000000000003" y2="223.925" stroke="#222" stroke-width="1" />
<rect x="343" y="226.12" width="7.2" height="4.88" fill="#2a4c86" />
<line x1="356.1" y1="224.825" x2="356.1" y2="221.625" stroke="#222" stroke-width="0.9" />
<line x1="353.8" y1="221.625" x2="358.40000000000003" y2="221.625" stroke="#222" stroke-width="1" />
<rect x="352.5" y="224.82" width="7.2" height="6.17" fill="#b30a2e" />
<line x1="313.2" y1="177.2" x2="313.2" y2="231.6" stroke="#222" stroke-width="1.3" />
<line x1="312.59999999999997" y1="231" x2="364" y2="231" stroke="#222" stroke-width="1.3" />
<line x1="325.8" y1="231" x2="325.8" y2="234" stroke="#222" stroke-width="1" />
<line x1="351.35" y1="231" x2="351.35" y2="234" stroke="#222" stroke-width="1" />
<text x="325.5" y="245" font-size="8.1" text-anchor="middle" fill="#222">B1</text>
<text x="351.2" y="245" font-size="8.1" text-anchor="middle" fill="#222">B2</text>
<line x1="320.8" y1="193" x2="330.5" y2="193" stroke="#222" stroke-width="1" />
<text x="325.65" y="192.1" font-size="7.5" text-anchor="middle" fill="#222">*</text>
<text x="280.5" y="203" font-size="8.4" text-anchor="middle" fill="#222" textLength="48.5" lengthAdjust="spacingAndGlyphs" transform="rotate(-90 280.5 203)" stroke="#222" stroke-width="0.3">% of PEC B-cell</text>
<text x="291.3" y="203.3" font-size="8.4" text-anchor="middle" fill="#222" textLength="32.3" lengthAdjust="spacingAndGlyphs" transform="rotate(-90 291.3 203.3)" stroke="#222" stroke-width="0.3">populations</text>
<line x1="426.7" y1="231.0" x2="430.2" y2="231.0" stroke="#222" stroke-width="1" />
<text x="423.7" y="233.9" font-size="8.3" text-anchor="end" fill="#222">0</text>
<line x1="426.7" y1="220.0" x2="430.2" y2="220.0" stroke="#222" stroke-width="1" />
<text x="423.7" y="222.9" font-size="8.3" text-anchor="end" fill="#222">20</text>
<line x1="426.7" y1="209.0" x2="430.2" y2="209.0" stroke="#222" stroke-width="1" />
<text x="423.7" y="211.9" font-size="8.3" text-anchor="end" fill="#222">40</text>
<line x1="426.7" y1="198.0" x2="430.2" y2="198.0" stroke="#222" stroke-width="1" />
<text x="423.7" y="200.9" font-size="8.3" text-anchor="end" fill="#222">60</text>
<line x1="426.7" y1="187.0" x2="430.2" y2="187.0" stroke="#222" stroke-width="1" />
<text x="423.7" y="189.9" font-size="8.3" text-anchor="end" fill="#222">80</text>
<rect x="433" y="201.03" width="6.9" height="29.98" fill="#2a4c86" />
<line x1="445.95" y1="196.075" x2="445.95" y2="194.975" stroke="#222" stroke-width="0.9" />
<line x1="443.65" y1="194.975" x2="448.25" y2="194.975" stroke="#222" stroke-width="1" />
<rect x="442.5" y="196.07" width="6.9" height="34.93" fill="#b30a2e" />
<line x1="457.75" y1="206.25" x2="457.75" y2="205.65" stroke="#222" stroke-width="0.9" />
<line x1="455.45" y1="205.65" x2="460.05" y2="205.65" stroke="#222" stroke-width="1" />
<rect x="454.3" y="206.25" width="6.9" height="24.75" fill="#2a4c86" />
<line x1="467.15" y1="210.65" x2="467.15" y2="209.95000000000002" stroke="#222" stroke-width="0.9" />
<line x1="464.84999999999997" y1="209.95000000000002" x2="469.45" y2="209.95000000000002" stroke="#222" stroke-width="1" />
<rect x="463.7" y="210.65" width="6.9" height="20.35" fill="#b30a2e" />
<line x1="430.2" y1="185.2" x2="430.2" y2="231.6" stroke="#222" stroke-width="1.3" />
<line x1="429.59999999999997" y1="231" x2="474" y2="231" stroke="#222" stroke-width="1.3" />
<line x1="441.2" y1="231" x2="441.2" y2="234" stroke="#222" stroke-width="1" />
<line x1="462.45" y1="231" x2="462.45" y2="234" stroke="#222" stroke-width="1" />
<text x="442" y="244.5" font-size="8.1" text-anchor="middle" fill="#222">B1a</text>
<text x="462.8" y="244.5" font-size="8.1" text-anchor="middle" fill="#222">B1b</text>
<line x1="436.2" y1="192.8" x2="446.4" y2="192.8" stroke="#222" stroke-width="1" />
<text x="441.29999999999995" y="191.9" font-size="7.5" text-anchor="middle" fill="#222">*</text>
<line x1="457.8" y1="192.8" x2="467.8" y2="192.8" stroke="#222" stroke-width="1" />
<text x="462.8" y="191.9" font-size="7.5" text-anchor="middle" fill="#222">*</text>
<text x="398.4" y="206.8" font-size="8.4" text-anchor="middle" fill="#222" textLength="42.5" lengthAdjust="spacingAndGlyphs" transform="rotate(-90 398.4 206.8)" stroke="#222" stroke-width="0.3">% of PEC B1-</text>
<text x="409.3" y="207.8" font-size="8.4" text-anchor="middle" fill="#222" textLength="47" lengthAdjust="spacingAndGlyphs" transform="rotate(-90 409.3 207.8)" stroke="#222" stroke-width="0.3">cell populations</text>
<line x1="309.7" y1="320.0" x2="313.2" y2="320.0" stroke="#222" stroke-width="1" />
<text x="306.7" y="322.9" font-size="8.3" text-anchor="end" fill="#222">0</text>
<line x1="309.7" y1="305.0" x2="313.2" y2="305.0" stroke="#222" stroke-width="1" />
<text x="306.7" y="307.9" font-size="8.3" text-anchor="end" fill="#222">20</text>
<line x1="309.7" y1="290.0" x2="313.2" y2="290.0" stroke="#222" stroke-width="1" />
<text x="306.7" y="292.9" font-size="8.3" text-anchor="end" fill="#222">40</text>
<line x1="309.7" y1="275.0" x2="313.2" y2="275.0" stroke="#222" stroke-width="1" />
<text x="306.7" y="277.9" font-size="8.3" text-anchor="end" fill="#222">60</text>
<line x1="318.8" y1="306.5" x2="318.8" y2="303.3" stroke="#222" stroke-width="0.9" />
<line x1="316.5" y1="303.3" x2="321.1" y2="303.3" stroke="#222" stroke-width="1" />
<rect x="315.2" y="306.5" width="7.2" height="13.5" fill="#2a4c86" />
<line x1="328.6" y1="287.0" x2="328.6" y2="281.8" stroke="#222" stroke-width="0.9" />
<line x1="326.3" y1="281.8" x2="330.90000000000003" y2="281.8" stroke="#222" stroke-width="1" />
<rect x="325" y="287.0" width="7.2" height="33.0" fill="#b30a2e" />
<line x1="339.6" y1="316.25" x2="339.6" y2="315.35" stroke="#222" stroke-width="0.9" />
<line x1="337.3" y1="315.35" x2="341.90000000000003" y2="315.35" stroke="#222" stroke-width="1" />
<rect x="336" y="316.25" width="7.2" height="3.75" fill="#2a4c86" />
<line x1="349.0" y1="313.25" x2="349.0" y2="309.65" stroke="#222" stroke-width="0.9" />
<line x1="346.7" y1="309.65" x2="351.3" y2="309.65" stroke="#222" stroke-width="1" />
<rect x="345.4" y="313.25" width="7.2" height="6.75" fill="#b30a2e" />
<line x1="313.2" y1="273.2" x2="313.2" y2="320.6" stroke="#222" stroke-width="1.3" />
<line x1="312.59999999999997" y1="320" x2="354.5" y2="320" stroke="#222" stroke-width="1.3" />
<line x1="323.70000000000005" y1="320" x2="323.70000000000005" y2="323" stroke="#222" stroke-width="1" />
<line x1="344.3" y1="320" x2="344.3" y2="323" stroke="#222" stroke-width="1" />
<text x="323.6" y="333.2" font-size="8.1" text-anchor="middle" fill="#222">B1</text>
<text x="344" y="333.2" font-size="8.1" text-anchor="middle" fill="#222">B2</text>
<line x1="319.5" y1="279.3" x2="330.3" y2="279.3" stroke="#222" stroke-width="1" />
<text x="324.9" y="278.40000000000003" font-size="7.5" text-anchor="middle" fill="#222">*</text>
<text x="281" y="296.5" font-size="8.4" text-anchor="middle" fill="#222" textLength="46.5" lengthAdjust="spacingAndGlyphs" transform="rotate(-90 281 296.5)" stroke="#222" stroke-width="0.3">Number of cells</text>
<text x="290.6" y="296" font-size="8.4" text-anchor="middle" fill="#222" textLength="20" lengthAdjust="spacingAndGlyphs" transform="rotate(-90 290.6 296)" stroke="#222" stroke-width="0.3">(x10<tspan font-size="5" dy="-2.5">6</tspan><tspan dy="2.5">)</tspan></text>
<rect x="346.8" y="283.8" width="7.6" height="5" fill="#2a4c86" />
<rect x="346.8" y="293.6" width="7.6" height="5" fill="#b30a2e" />
<text x="357.8" y="289" font-size="7.3" font-style="italic" fill="#1a1a1a" textLength="21.5" lengthAdjust="spacingAndGlyphs">Tet2<tspan font-size="5.4" dy="-2.2">+/+</tspan></text>
<text x="357.8" y="298.4" font-size="7.3" font-style="italic" fill="#1a1a1a" textLength="19" lengthAdjust="spacingAndGlyphs">Tet2<tspan font-size="5" dy="-2.2">-/-</tspan></text>
<line x1="426.7" y1="320.0" x2="430.2" y2="320.0" stroke="#222" stroke-width="1" />
<text x="423.7" y="322.9" font-size="8.3" text-anchor="end" fill="#222">0</text>
<line x1="426.7" y1="309.0" x2="430.2" y2="309.0" stroke="#222" stroke-width="1" />
<text x="423.7" y="311.9" font-size="8.3" text-anchor="end" fill="#222">10</text>
<line x1="426.7" y1="298.0" x2="430.2" y2="298.0" stroke="#222" stroke-width="1" />
<text x="423.7" y="300.9" font-size="8.3" text-anchor="end" fill="#222">20</text>
<line x1="426.7" y1="287.0" x2="430.2" y2="287.0" stroke="#222" stroke-width="1" />
<text x="423.7" y="289.9" font-size="8.3" text-anchor="end" fill="#222">30</text>
<line x1="426.7" y1="276.0" x2="430.2" y2="276.0" stroke="#222" stroke-width="1" />
<text x="423.7" y="278.9" font-size="8.3" text-anchor="end" fill="#222">40</text>
<line x1="436.45" y1="309.0" x2="436.45" y2="306.4" stroke="#222" stroke-width="0.9" />
<line x1="434.15" y1="306.4" x2="438.75" y2="306.4" stroke="#222" stroke-width="1" />
<rect x="433" y="309.0" width="6.9" height="11.0" fill="#2a4c86" />
<line x1="445.95" y1="289.2" x2="445.95" y2="283.7" stroke="#222" stroke-width="0.9" />
<line x1="443.65" y1="283.7" x2="448.25" y2="283.7" stroke="#222" stroke-width="1" />
<rect x="442.5" y="289.2" width="6.9" height="30.8" fill="#b30a2e" />
<line x1="457.75" y1="310.65" x2="457.75" y2="308.65" stroke="#222" stroke-width="0.9" />
<line x1="455.45" y1="308.65" x2="460.05" y2="308.65" stroke="#222" stroke-width="1" />
<rect x="454.3" y="310.65" width="6.9" height="9.35" fill="#2a4c86" />
<line x1="467.15" y1="302.4" x2="467.15" y2="299.79999999999995" stroke="#222" stroke-width="0.9" />
<line x1="464.84999999999997" y1="299.79999999999995" x2="469.45" y2="299.79999999999995" stroke="#222" stroke-width="1" />
<rect x="463.7" y="302.4" width="6.9" height="17.6" fill="#b30a2e" />
<line x1="430.2" y1="274.2" x2="430.2" y2="320.6" stroke="#222" stroke-width="1.3" />
<line x1="429.59999999999997" y1="320" x2="474" y2="320" stroke="#222" stroke-width="1.3" />
<line x1="441.2" y1="320" x2="441.2" y2="323" stroke="#222" stroke-width="1" />
<line x1="462.45" y1="320" x2="462.45" y2="323" stroke="#222" stroke-width="1" />
<text x="442" y="333" font-size="8.1" text-anchor="middle" fill="#222">B1a</text>
<text x="463" y="333" font-size="8.1" text-anchor="middle" fill="#222">B1b</text>
<line x1="436" y1="279" x2="447" y2="279" stroke="#222" stroke-width="1" />
<text x="441.5" y="278.1" font-size="7.5" text-anchor="middle" fill="#222">*</text>
<text x="398.8" y="296.2" font-size="8.4" text-anchor="middle" fill="#222" textLength="47.5" lengthAdjust="spacingAndGlyphs" transform="rotate(-90 398.8 296.2)" stroke="#222" stroke-width="0.3">Number of cells</text>
<text x="410.4" y="296" font-size="8.4" text-anchor="middle" fill="#222" textLength="18.5" lengthAdjust="spacingAndGlyphs" transform="rotate(-90 410.4 296)" stroke="#222" stroke-width="0.3">(x10<tspan font-size="5" dy="-2.5">4</tspan><tspan dy="2.5">)</tspan></text>
<clipPath id="cpC"><ellipse cx="95.6" cy="436.4" rx="47.3" ry="46.8" /></clipPath>
<clipPath id="cyC"><ellipse cx="157.7" cy="436.4" rx="47.3" ry="46.8" /></clipPath>
<ellipse cx="95.6" cy="436.4" rx="47.3" ry="46.8" fill="#6c64a8"/>
<ellipse cx="157.7" cy="436.4" rx="47.3" ry="46.8" fill="#fdf272"/>
<ellipse cx="126.8" cy="489.9" rx="47.3" ry="46.8" fill="#72b054"/>
<ellipse cx="157.7" cy="436.4" rx="47.3" ry="46.8" fill="#c6bd7c" clip-path="url(#cpC)"/>
<ellipse cx="126.8" cy="489.9" rx="47.3" ry="46.8" fill="#2e9468" clip-path="url(#cpC)"/>
<ellipse cx="126.8" cy="489.9" rx="47.3" ry="46.8" fill="#8fbb3e" clip-path="url(#cyC)"/>
<g clip-path="url(#cpC)"><ellipse cx="126.8" cy="489.9" rx="47.3" ry="46.8" fill="#62a548" clip-path="url(#cyC)"/></g>
<ellipse cx="95.6" cy="436.4" rx="47.3" ry="46.8" fill="none" stroke="#111" stroke-width="1.3"/>
<ellipse cx="157.7" cy="436.4" rx="47.3" ry="46.8" fill="none" stroke="#111" stroke-width="1.3"/>
<ellipse cx="126.8" cy="489.9" rx="47.3" ry="46.8" fill="none" stroke="#111" stroke-width="1.3"/>
<text x="8.7" y="361" font-size="10.8" font-weight="bold" fill="#000" stroke="#000" stroke-width="0.35">C</text>
<text x="126.5" y="372.3" font-size="10" text-anchor="middle" fill="#111">UP</text>
<text x="88" y="384.1" font-size="7.6" text-anchor="middle" font-style="italic" fill="#5f5f8c" textLength="22" lengthAdjust="spacingAndGlyphs">Tet2-/-</text>
<text x="164.6" y="384.1" font-size="7.7" text-anchor="middle" fill="#e8d544">SpB1a</text>
<text x="126.6" y="546.8" font-size="8.2" text-anchor="middle" fill="#9fc08c" textLength="25" lengthAdjust="spacingAndGlyphs">PCB1a</text>
<text x="85.5" y="426.3" font-size="7.6" text-anchor="middle" fill="#20202a">57</text>
<text x="85.5" y="436.3" font-size="7.6" text-anchor="middle" fill="#20202a">(13.6%)</text>
<text x="126" y="426.4" font-size="7.6" text-anchor="middle" fill="#20202a">4</text>
<text x="126" y="436.4" font-size="7.6" text-anchor="middle" fill="#20202a">(1%)</text>
<text x="167.3" y="426.4" font-size="7.6" text-anchor="middle" fill="#20202a">67</text>
<text x="167.3" y="436.4" font-size="7.6" text-anchor="middle" fill="#20202a">(16%)</text>
<text x="126" y="451.2" font-size="7.6" text-anchor="middle" fill="#20202a">21</text>
<text x="126" y="460.6" font-size="7.6" text-anchor="middle" fill="#20202a">(5%)</text>
<text x="101" y="467.3" font-size="7.6" text-anchor="middle" fill="#20202a">8</text>
<text x="101" y="475.9" font-size="7.6" text-anchor="middle" fill="#20202a">(1.9%)</text>
<text x="150.2" y="467.3" font-size="7.6" text-anchor="middle" fill="#20202a">129</text>
<text x="150.2" y="475.9" font-size="7.6" text-anchor="middle" fill="#20202a">(30.7%)</text>
<text x="126" y="498.8" font-size="7.6" text-anchor="middle" fill="#20202a">134</text>
<text x="126" y="509.1" font-size="7.6" text-anchor="middle" fill="#20202a">(31.9%)</text>
<line x1="126.8" y1="462.5" x2="56.02" y2="556.01" stroke="#111" stroke-width="1.4" />
<path d="M53 560 L55.64 551.21 L56.86 554.90 L60.74 555.07 Z" fill="#111"/>
<clipPath id="cpD"><ellipse cx="366" cy="436.4" rx="47.3" ry="46.8" /></clipPath>
<clipPath id="cyD"><ellipse cx="428.2" cy="436.4" rx="47.3" ry="46.8" /></clipPath>
<ellipse cx="366" cy="436.4" rx="47.3" ry="46.8" fill="#6c64a8"/>
<ellipse cx="428.2" cy="436.4" rx="47.3" ry="46.8" fill="#fdf272"/>
<ellipse cx="397.1" cy="489.9" rx="47.3" ry="46.8" fill="#72b054"/>
<ellipse cx="428.2" cy="436.4" rx="47.3" ry="46.8" fill="#c6bd7c" clip-path="url(#cpD)"/>
<ellipse cx="397.1" cy="489.9" rx="47.3" ry="46.8" fill="#2e9468" clip-path="url(#cpD)"/>
<ellipse cx="397.1" cy="489.9" rx="47.3" ry="46.8" fill="#8fbb3e" clip-path="url(#cyD)"/>
<g clip-path="url(#cpD)"><ellipse cx="397.1" cy="489.9" rx="47.3" ry="46.8" fill="#62a548" clip-path="url(#cyD)"/></g>
<ellipse cx="366" cy="436.4" rx="47.3" ry="46.8" fill="none" stroke="#111" stroke-width="1.3"/>
<ellipse cx="428.2" cy="436.4" rx="47.3" ry="46.8" fill="none" stroke="#111" stroke-width="1.3"/>
<ellipse cx="397.1" cy="489.9" rx="47.3" ry="46.8" fill="none" stroke="#111" stroke-width="1.3"/>
<text x="263.6" y="361" font-size="10.8" font-weight="bold" fill="#000" stroke="#000" stroke-width="0.35">D</text>
<text x="397" y="372.3" font-size="10" text-anchor="middle" fill="#111">DOWN</text>
<text x="358.6" y="384.1" font-size="7.6" text-anchor="middle" font-style="italic" fill="#5f5f8c" textLength="22" lengthAdjust="spacingAndGlyphs">Tet2-/-</text>
<text x="436.2" y="384.1" font-size="7.7" text-anchor="middle" fill="#e8d544">SpB1a</text>
<text x="396.7" y="546.8" font-size="8.2" text-anchor="middle" fill="#9fc08c" textLength="25" lengthAdjust="spacingAndGlyphs">PCB1a</text>
<text x="355.8" y="425.8" font-size="7.6" text-anchor="middle" fill="#20202a">85</text>
<text x="355.8" y="435.7" font-size="7.6" text-anchor="middle" fill="#20202a">(32.8%)</text>
<text x="396.5" y="426.0" font-size="7.6" text-anchor="middle" fill="#20202a">0</text>
<text x="396.5" y="435.9" font-size="7.6" text-anchor="middle" fill="#20202a">(0%)</text>
<text x="438.4" y="426.1" font-size="7.6" text-anchor="middle" fill="#20202a">19</text>
<text x="438.4" y="435.9" font-size="7.6" text-anchor="middle" fill="#20202a">(7.3%)</text>
<text x="396.4" y="450.5" font-size="7.6" text-anchor="middle" fill="#20202a">17</text>
<text x="396.4" y="459.7" font-size="7.6" text-anchor="middle" fill="#20202a">(6.6%)</text>
<text x="371.8" y="466.7" font-size="7.6" text-anchor="middle" fill="#20202a">7</text>
<text x="371.8" y="476.3" font-size="7.6" text-anchor="middle" fill="#20202a">(2.7%)</text>
<text x="420.4" y="467.1" font-size="7.6" text-anchor="middle" fill="#20202a">39</text>
<text x="420.4" y="476.7" font-size="7.6" text-anchor="middle" fill="#20202a">(15.1%)</text>
<text x="396.4" y="499.1" font-size="7.6" text-anchor="middle" fill="#20202a">92</text>
<text x="396.4" y="508.9" font-size="7.6" text-anchor="middle" fill="#20202a">(35.5%)</text>
<line x1="397.4" y1="462" x2="326.02" y2="556.02" stroke="#111" stroke-width="1.4" />
<path d="M323 560 L325.65 551.22 L326.87 554.90 L330.75 555.09 Z" fill="#111"/>
<line x1="7" y1="568.2" x2="247" y2="568.2" stroke="#222" stroke-width="1.3" />
<text x="7.3" y="576.3000000000001" font-size="6.1" font-weight="bold" fill="#111" stroke="#111" stroke-width="0.15">Gene Set Name</text>
<text x="196" y="576.3000000000001" font-size="6.1" text-anchor="middle" font-weight="bold" fill="#111" stroke="#111" stroke-width="0.15">p-value</text>
<text x="247" y="576.3000000000001" font-size="6.1" text-anchor="end" font-weight="bold" fill="#111" stroke="#111" stroke-width="0.15">FDR q-value</text>
<text x="7.3" y="584.7" font-size="5.8" fill="#2a2a2a">LEE_BMP2_TARGETS_DN</text>
<text x="196" y="584.7" font-size="5.8" text-anchor="middle" fill="#2a2a2a">4,22E-09</text>
<text x="229" y="584.7" font-size="5.8" text-anchor="middle" fill="#2a2a2a">7,50E-05</text>
<text x="7.3" y="593.3" font-size="5.8" fill="#2a2a2a">GSE15930_NAIVE_VS_24H_IN_VITRO_STIM_CD8_TCELL_DN</text>
<text x="196" y="593.3" font-size="5.8" text-anchor="middle" fill="#2a2a2a">2,50E-08</text>
<text x="229" y="593.3" font-size="5.8" text-anchor="middle" fill="#2a2a2a">0,000126</text>
<text x="7.3" y="602.0" font-size="5.8" fill="#2a2a2a">GSE33425_CD161_HIGH_VS_NEG_CD8_TCELL_DN</text>
<text x="196" y="602.0" font-size="5.8" text-anchor="middle" fill="#2a2a2a">2,50E-08</text>
<text x="229" y="602.0" font-size="5.8" text-anchor="middle" fill="#2a2a2a">1,26E-04</text>
<text x="7.3" y="610.6" font-size="5.8" fill="#2a2a2a">WEI_MYCN_TARGETS_WITH_E_BOX</text>
<text x="196" y="610.6" font-size="5.8" text-anchor="middle" fill="#2a2a2a">2,83E-08</text>
<text x="229" y="610.6" font-size="5.8" text-anchor="middle" fill="#2a2a2a">1,26E-04</text>
<line x1="7" y1="615.3" x2="247" y2="615.3" stroke="#222" stroke-width="1.3" />
<line x1="264" y1="568.6" x2="513" y2="568.6" stroke="#222" stroke-width="1.3" />
<text x="264.3" y="576.7" font-size="6.1" font-weight="bold" fill="#111" stroke="#111" stroke-width="0.15">Gene Set Name</text>
<text x="458.5" y="576.7" font-size="6.1" text-anchor="middle" font-weight="bold" fill="#111" stroke="#111" stroke-width="0.15">p-value</text>
<text x="513.2" y="576.7" font-size="6.1" text-anchor="end" font-weight="bold" fill="#111" stroke="#111" stroke-width="0.15">FDR q-value</text>
<text x="264.3" y="584.8" font-size="5.8" fill="#2a2a2a">WONG_ADULT_TISSUE_STEM_MODULE</text>
<text x="458.5" y="584.8" font-size="5.8" text-anchor="middle" fill="#2a2a2a">3.37E-12</text>
<text x="496.5" y="584.8" font-size="5.8" text-anchor="middle" fill="#2a2a2a">1.6E-8</text>
<text x="264.3" y="593.5" font-size="5.8" fill="#2a2a2a">GRAESSMANN_APOPTOSIS_BY_DOXORUBICIN_UP</text>
<text x="458.5" y="593.5" font-size="5.8" text-anchor="middle" fill="#2a2a2a">1.37E-8</text>
<text x="496.5" y="593.5" font-size="5.8" text-anchor="middle" fill="#2a2a2a">2.45E-5</text>
<text x="264.3" y="602.2" font-size="5.8" fill="#2a2a2a">ZHANG_TLX_TARGETS_UP</text>
<text x="458.5" y="602.2" font-size="5.8" text-anchor="middle" fill="#2a2a2a">1.56E-8</text>
<text x="496.5" y="602.2" font-size="5.8" text-anchor="middle" fill="#2a2a2a">2.45E-5</text>
<text x="264.3" y="611.0" font-size="5.8" fill="#2a2a2a">ZHANG_TLX_TARGETS_36HR_UP</text>
<text x="458.5" y="611.0" font-size="5.8" text-anchor="middle" fill="#2a2a2a">4.53E-8</text>
<text x="496.5" y="611.0" font-size="5.8" text-anchor="middle" fill="#2a2a2a">5.36E-5</text>
<text x="264.3" y="619.7" font-size="5.8" fill="#2a2a2a">VANOVA_HEMATOPOIESIS_STEM_CELL_AND_PROGENITOR</text>
<text x="458.5" y="619.7" font-size="5.8" text-anchor="middle" fill="#2a2a2a">7.41E-8</text>
<text x="496.5" y="619.7" font-size="5.8" text-anchor="middle" fill="#2a2a2a">7.01E-5</text>
<text x="264.3" y="628.4" font-size="5.8" fill="#2a2a2a">LEE_BMP2_TARGETS_UP</text>
<text x="458.5" y="628.4" font-size="5.8" text-anchor="middle" fill="#2a2a2a">1.7E-7</text>
<text x="496.5" y="628.4" font-size="5.8" text-anchor="middle" fill="#2a2a2a">1.13E-4</text>
<text x="264.3" y="637.1" font-size="5.8" fill="#2a2a2a">KUMAR_TARGETS_OF_MLL_AF9_FUSION</text>
<text x="458.5" y="637.1" font-size="5.8" text-anchor="middle" fill="#2a2a2a">1.78E-7</text>
<text x="496.5" y="637.1" font-size="5.8" text-anchor="middle" fill="#2a2a2a">1.13E-4</text>
<line x1="264" y1="641.5" x2="513" y2="641.5" stroke="#222" stroke-width="1.3" />
<rect x="0.5" y="0.5" width="519" height="648" fill="none" stroke="#000" stroke-width="1.2"/>
</svg></body></html>
